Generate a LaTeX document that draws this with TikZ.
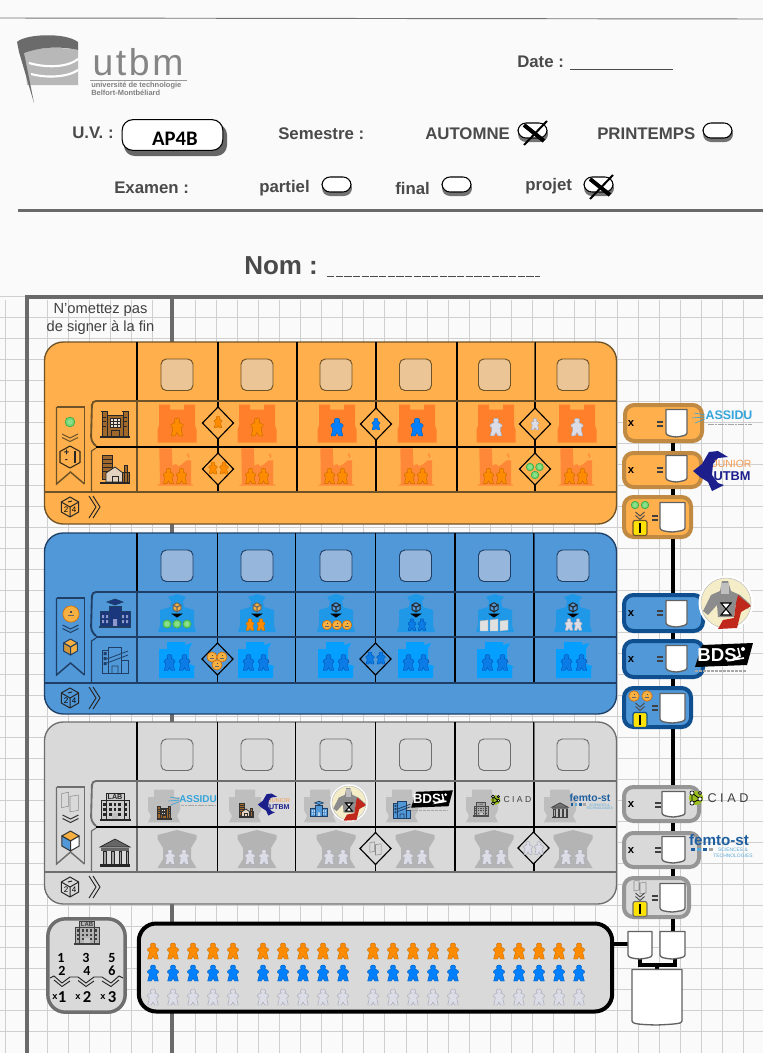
\documentclass[tikz,border=0pt]{standalone}
\usepackage{fontspec}
\setmainfont{Liberation Sans}
\newfontfamily\cfont{Carlito}
\usetikzlibrary{calc}
\definecolor{hdr}{HTML}{4A4A4A}
\definecolor{gridc}{HTML}{CFCFCF}
\definecolor{thk}{HTML}{6A6A6A}
\definecolor{orF}{HTML}{FFB04C}\definecolor{orS}{HTML}{6E5228}\definecolor{orQ}{HTML}{EBC595}\definecolor{orB}{HTML}{C08A42}
\definecolor{blF}{HTML}{5198D8}\definecolor{blS}{HTML}{1F3F66}\definecolor{blQ}{HTML}{96B6DC}\definecolor{blB}{HTML}{0F4F8F}
\definecolor{grF}{HTML}{D9D9D9}\definecolor{grS}{HTML}{6E6E6E}\definecolor{grB}{HTML}{969696}
\definecolor{castleC}{HTML}{FF7F2A}\definecolor{factC}{HTML}{FF8838}
\definecolor{schoolC}{HTML}{2098E8}\definecolor{houseC}{HTML}{05A0FF}
\definecolor{labC}{HTML}{BEBEBE}\definecolor{templeC}{HTML}{B4B4B4}
\definecolor{coinC}{HTML}{F5B041}\definecolor{brn}{HTML}{A0682A}
\tikzset{
 connec/.style={line width=3pt,black},
 vthin/.style={line width=.8pt,black},
 scorebox/.style={rounded corners=7pt,line width=3pt,inner sep=0pt},
 hdrtxt/.style={inner sep=0pt,text=hdr,font=\fontsize{12.6}{14}\selectfont\bfseries},
}
\newcounter{lb}
\newcommand\lbl[4][]{\stepcounter{lb}\node[inner sep=0pt,#1] (lb\arabic{lb}) at (#2,#3) {#4};}
% meeple: x y scale fill stroke
\newcommand\meep[5]{\begin{scope}[shift={(#1,#2)},scale=#3]
\filldraw[fill=#4,draw=#5,line width=.35pt,line join=round] (0,-8)--(1.7,-7.6)--(2.5,-6.3)--(2.3,-4.8)--(1.6,-4)--(3.8,-3.2)--(5.5,-1.8)--(5.4,-.2)--(3.9,.3)--(4,3)--(5.3,8)--(1.7,8)--(0,5)--(-1.7,8)--(-5.3,8)--(-4,3)--(-3.9,.3)--(-5.4,-.2)--(-5.5,-1.8)--(-3.8,-3.2)--(-1.6,-4)--(-2.3,-4.8)--(-2.5,-6.3)--(-1.7,-7.6)--cycle;
\end{scope}}
\definecolor{mOf}{HTML}{FF8C00}\definecolor{mOs}{HTML}{C96E00}
\definecolor{mBf}{HTML}{0080FF}\definecolor{mBs}{HTML}{0062C4}
\definecolor{mWf}{HTML}{DCDCE6}\definecolor{mWs}{HTML}{A8A8B4}
\definecolor{mDf}{HTML}{0B7CE6}\definecolor{mDs}{HTML}{0058B8}
\newcommand\mO[3]{\meep{#1}{#2}{#3}{mOf}{mOs}}
\newcommand\mB[3]{\meep{#1}{#2}{#3}{mBf}{mBs}}
\newcommand\mW[3]{\meep{#1}{#2}{#3}{mWf}{mWs}}
\newcommand\mD[3]{\meep{#1}{#2}{#3}{mDf}{mDs}}
% cell shapes
\newcommand\castle[2]{\fill[castleC,shift={(#1,#2)}] (-18,-19)--(-7,-19)--(-7,-14)--(7,-14)--(7,-19)--(18,-19)--(18,2)--(19.5,6)--(19.5,19)--(-19.5,19)--(-19.5,6)--(-18,2)--cycle;}
\newcommand\factory[2]{\begin{scope}[shift={(#1,#2)}]
\fill[factC] (-15.7,-18.7)--(-3.3,-18.7)--(-2.5,-1.3)--(1,-3)--(3.3,-1)--(6,-2)--(11.7,-6.7)--(16,-6.7)--(16,17)--(19,18.7)--(-18.3,18.7)--(-15,17)--cycle;
\draw[factC,line width=.6pt] (13.5,-14)--(12.5,-11.5)--(14,-11)--(13,-9);
\end{scope}}
\newcommand\school[2]{\fill[schoolC,shift={(#1,#2)}] (-9,-16)--(0,-19)--(9,-16)--(6,-12)--(7,-6)--(17,-3)--(17,12)--(19,19)--(-19,19)--(-17,12)--(-17,-3)--(-7,-6)--(-6,-12)--cycle;}
\newcommand\house[2]{\fill[houseC,shift={(#1,#2)}] (-10,-18)--(8,-18)--(8,-15)--(15,-17)--(12,-11)--(12,4)--(18,6)--(17,9)--(17,18)--(-18,18)--(-18,-11)--(-10,-11)--cycle;}
\newcommand\labshape[2]{\fill[labC,shift={(#1,#2)}] (-10,-16.3)--(10,-16.3)--(10,-9)--(16,-9)--(16,4)--(13,10)--(16,16.3)--(-16,16.3)--(-13,10)--(-16,4)--(-16,-9)--(-10,-9)--cycle;}
\newcommand\temple[2]{\fill[templeC,shift={(#1,#2)}] (0,-19)--(19.5,-14)--(19.5,-10)--(14,-1)--(14,10)--(19.5,19)--(-19.5,19)--(-14,10)--(-14,-1)--(-19.5,-10)--(-19.5,-14)--cycle;}
% tokens
\definecolor{tokA}{HTML}{6FD86F}\definecolor{tokB}{HTML}{3FA84F}\definecolor{tokC}{HTML}{8CE08C}
\newcommand\token[3]{\begin{scope}[shift={(#1,#2)},scale=#3]\filldraw[fill=tokA,draw=tokB,line width=.5pt] (0,0) circle (3.6);\fill[tokC] (0,0) circle (1.9);\end{scope}}
\newcommand\coin[3]{\begin{scope}[shift={(#1,#2)},scale=#3]\filldraw[fill=coinC,draw=orange!80!black,line width=.4pt] (0,0) circle (4.8);\fill[black!70] (-.4,-1.8) rectangle (.4,-.8);\fill[black!60] (-2,.6) rectangle (2,1.2);\end{scope}}
% cube x y r top left right line
\newcommand\cube[7]{\begin{scope}[shift={(#1,#2)},scale=#3,line width=.75pt,line join=round]
\filldraw[fill=#4,draw=#7] (0,-1)--(.87,-.5)--(0,0)--(-.87,-.5)--cycle;
\filldraw[fill=#5,draw=#7] (-.87,-.5)--(0,0)--(0,1)--(-.87,.5)--cycle;
\filldraw[fill=#6,draw=#7] (.87,-.5)--(0,0)--(0,1)--(.87,.5)--cycle;
\end{scope}}
\newcommand\chev[4]{\draw[#4,line width=.7pt] (#1-#3,#2)--(#1,#2+4)--(#1+#3,#2) (#1-#3,#2+3.5)--(#1,#2+7.5)--(#1+#3,#2+3.5);}
\newcommand\book[4]{\begin{scope}[shift={(#1,#2)},scale=#3]\filldraw[fill=#4,draw=black!45,line width=.4pt] (-6,-6)--(-1,-7)--(-1,3)--(-6,4)--cycle (0,-4)--(6,-5)--(6,6)--(0,7)--cycle;\end{scope}}
\newcommand\ddown[4]{\begin{scope}[shift={(#1,#2)}]\cube{0}{-5.7}{4.6}{#3}{#3}{#3}{#4}\fill[black] (-6,.5)--(6,.5)--(0,4.5)--cycle;\end{scope}}
\newcommand\diam[2]{\filldraw[shift={(#1,#2)},draw=black,line width=.85pt,fill=\dfill] (-15.5,0)--(0,-16)--(15.5,0)--(0,16)--cycle;}
% die icon at left of bottom band
\newcommand\die[2]{\begin{scope}[shift={(#1,#2)}]
\draw[black!85,line width=.75pt,line join=round] (0,-10)--(8.7,-5)--(8.7,5)--(0,10)--(-8.7,5)--(-8.7,-5)--cycle (-8.7,-5)--(0,0)--(8.7,-5) (0,0)--(0,10) (-2,-5)--(2,-6);
\lbl[font=\fontsize{6}{6}\selectfont]{-4}{3}{2}\lbl[font=\fontsize{6}{6}\selectfont]{4}{3}{4}
\draw[black!85,line width=.7pt] (19,-11)--(26,0)--(19,11) (23,-11)--(30,0)--(23,11);
\end{scope}}
% building icons x y s line fill
\newcommand\icCastle[5]{\begin{scope}[shift={(#1,#2)},scale=#3,draw=#4,line width=.55pt]
\filldraw[fill=#5] (-13,-12) rectangle (-8,13) (8,-12) rectangle (13,13) (-8,-8) rectangle (8,13);
\filldraw[fill=white!80!#5] (-5,-5) rectangle (5,4);
\draw (-5,-2)--(5,-2) (-5,1)--(5,1) (-2,-5)--(-2,4) (2,-5)--(2,4) (-14,-12)--(-7,-12) (7,-12)--(14,-12) (-12,-6)--(-9,-6) (-12,-2)--(-9,-2) (-12,3)--(-9,3) (9,-6)--(12,-6) (9,-2)--(12,-2) (9,3)--(12,3) (-4,13)--(-4,7)--(4,7)--(4,13);
\draw[line width=1pt] (-15,14)--(15,14);
\end{scope}}
\newcommand\icFact[5]{\begin{scope}[shift={(#1,#2)},scale=#3,draw=#4,line width=.55pt]
\filldraw[fill=#5] (-13,-14) rectangle (-3,10);
\draw (-13,-10)--(-3,-10) (-13,-6)--(-3,-6) (-13,-2)--(-3,-2) (-13,2)--(-3,2);
\filldraw[fill=white!70!#5] (-9,13)--(-9,4)--(0,-2)--(8,4)--(8,13)--cycle;
\filldraw[fill=#5] (9,-4) rectangle (12,13) (7,3) rectangle (14,13);
\draw (-3,13)--(-3,7)--(3,7)--(3,13);
\draw[line width=1pt] (-15,14)--(15,14);
\end{scope}}
\newcommand\icSchool[5]{\begin{scope}[shift={(#1,#2)},scale=#3,draw=#4,line width=.5pt]
\filldraw[fill=#5] (-15,-2) rectangle (-6,13) (6,-2) rectangle (15,13) (-6,-7)--(6,-7)--(6,13)--(-6,13)--cycle;
\filldraw[fill=#5] (-8,-11)--(0,-14)--(8,-11)--(0,-8)--cycle;
\fill[white!60!#5] (-13,2) rectangle (-11,5) (-9,2) rectangle (-7,5) (-13,7) rectangle (-11,10) (-9,7) rectangle (-7,10) (7,2) rectangle (9,5) (11,2) rectangle (13,5) (7,7) rectangle (9,10) (11,7) rectangle (13,10) (-2,6) rectangle (2,13);
\draw[line width=1pt] (-16,14)--(16,14);
\end{scope}}
\newcommand\icFactB[5]{\begin{scope}[shift={(#1,#2)},scale=#3,draw=#4,line width=.6pt]
\filldraw[fill=#5] (-13,-10) rectangle (-7,13) (-7,-13) rectangle (6,13) (6,0) rectangle (13,13);
\fill[#4] (-11.5,-8) rectangle (-8.5,-5) (-11.5,-3) rectangle (-8.5,0) (-11.5,2) rectangle (-8.5,5);
\draw (-8,-1)--(13,-9) (-8,3)--(13,-5) (-3,13)--(-3,6)--(3,6)--(3,13);
\end{scope}}
\newcommand\icLab[6]{\begin{scope}[shift={(#1,#2)},scale=#3,draw=#4,line width=.5pt]
\filldraw[fill=#5] (-14,-6) rectangle (14,13) (-9,-13) rectangle (9,13);
\foreach \uu in {-12,-6,-1.5,3,9}{\foreach \vv in {-3,2,7}{\fill[#4] (\uu,\vv) rectangle +(2.8,2.8);}}
\fill[white!70!#4] (-3,7) rectangle (3,13);
\draw[line width=1pt] (-15.5,14)--(15.5,14);
\lbl[font=\fontsize{#6}{#6}\selectfont\bfseries,text=#4]{0}{-9}{LAB}
\end{scope}}
\newcommand\icTemple[5]{\begin{scope}[shift={(#1,#2)},scale=#3,draw=#4,line width=.5pt]
\filldraw[fill=#5] (-15,-5)--(0,-13)--(15,-5)--cycle;
\fill[#5] (-14,-4) rectangle (14,-1);
\foreach \uu in {-11.5,-3.5,4,11}{\filldraw[fill=white!40!#5] (\uu,-1) rectangle +(2.6,13);}
\fill[#4] (-15,12) rectangle (15,15);
\end{scope}}
% logos
\definecolor{assC}{HTML}{34A4DC}
\definecolor{jrN}{HTML}{1C1E8C}\definecolor{jrO}{HTML}{F59B50}
\newcommand\assidu[3]{\begin{scope}[shift={(#1,#2)},scale=#3]
\pgfmathsetmacro\fs{9.3*#3}
\draw[assC,line width=.45pt] (-35,-5)--(-24,-3) (-37,0)--(-24,-1) (-34,5)--(-24,1);
\lbl[font=\fontsize{\fs}{\fs}\selectfont\bfseries,text=assC]{0}{-2.5}{ASSIDU}
\draw[black!35,line width=.5pt,dash pattern=on 2pt off .5pt] (-21,6)--(23,6);
\end{scope}}
\newcommand\junior[3]{\begin{scope}[shift={(#1,#2)},scale=#3]
\pgfmathsetmacro\fs{7.8*#3}\pgfmathsetmacro\fb{9.6*#3}
\fill[jrN] (-33,1)--(-24,-6)--(-17,-18)--(-8,-19)--(2,-13)--(-8,-12)--(-13,-6)--(-14,5)--(-8,13)--(-2,15)--(-14,21)--(-18,12)--(-26,7)--cycle;
\lbl[font=\fontsize{\fs}{\fs}\selectfont,text=jrO]{6}{-6}{JUNIOR}
\lbl[font=\fontsize{\fb}{\fb}\selectfont\bfseries,text=jrN]{6}{6}{UTBM}
\end{scope}}
\definecolor{crm}{HTML}{F4EDC8}\definecolor{crR}{HTML}{C0281C}
\newcommand\chronos[3]{\begin{scope}[shift={(#1,#2)},scale=#3]
\fill[white] (0,0) circle (27.5);
\filldraw[fill=crm,draw=black!25,line width=.4pt] (0,0) circle (25);
\fill[black!45] (-15,-8)--(-6,-12)--(-4,-22)--(2,-22)--(5,-12)--(14,-8)--(24,1)--(22,6)--(10,0)--(8,14)--(-8,14)--(-9,2)--(-18,12)--(-23,8)--cycle;
\fill[black!25] (-5,-20) rectangle (3,-9);
\fill[crR] (12,-8)--(25,3)--(15,9)--(11,25)--(-8,26)--(-3,17)--(8,15)--(10,0)--cycle;
\filldraw[fill=white,draw=black,line width=.8pt] (-5,0)--(5,0)--(-5,12)--(5,12)--cycle;
\end{scope}}
\newcommand\bds[3]{\begin{scope}[shift={(#1,#2)},scale=#3]
\pgfmathsetmacro\fs{14*#3}
\fill[black] (-22,-10)--(29,-12)--(23,10)--(-29,12)--cycle;
\lbl[font=\fontsize{\fs}{\fs}\selectfont\bfseries,text=white]{-7}{0}{BDS}
\draw[white,line width=1.2pt] (14,-7)--(16,1)--(8,5)--(20,3);
\fill[white] (19,-6) circle (2);
\draw[black!35,line width=1pt,dash pattern=on 2pt off 1pt] (-29,16)--(22,16);
\end{scope}}
\definecolor{ciadG}{HTML}{9ABF20}
\newcommand\ciad[3]{\begin{scope}[shift={(#1,#2)},scale=#3]
\pgfmathsetmacro\fs{9.5*#3}
\fill[ciadG] (-24,0) circle (7);
\draw[black,line width=.6pt] (-28,-5)--(-20,1)--(-28,5) (-28,-5)--(-28,5);
\filldraw[fill=white,draw=black,line width=.5pt] (-28,-5) circle (2.1) (-20,1) circle (2.1) (-28,5) circle (2.1) (-20,-5) circle (1.7);
\lbl[font=\fontsize{\fs}{\fs}\selectfont\addfontfeature{LetterSpace=28},text=black!75]{8}{0}{CIAD}
\end{scope}}
\definecolor{fb}{HTML}{1F5FA0}\definecolor{fc}{HTML}{5AA9D6}
\newcommand\femto[3]{\begin{scope}[shift={(#1,#2)},scale=#3]
\pgfmathsetmacro\fs{11.4*#3}\pgfmathsetmacro\ft{3.7*#3}
\lbl[font=\fontsize{\fs}{\fs}\selectfont\bfseries,text=fb]{0}{-4}{femto-st}
\fill[fb] (-28,3.5) rectangle +(3.5,3.5);\fill[fc] (-22,3.5) rectangle +(3.5,3.5);\fill[fb] (-16,3.5) rectangle +(3.5,3.5);\fill[black!35] (-10,3.5) rectangle +(3.5,3.5);
\lbl[font=\fontsize{\ft}{\ft}\selectfont,text=fc]{14}{6}{SCIENCES \&}
\lbl[font=\fontsize{\ft}{\ft}\selectfont,text=fc]{14}{11.5}{TECHNOLOGIES}
\end{scope}}
% checkbox
\newcommand\cbox[2]{\fill[black!55,rounded corners=6pt] (#1,#2+3) rectangle (#1+30,#2+19);
\filldraw[fill=white,draw=black,line width=.8pt,rounded corners=6pt] (#1,#2) rectangle (#1+29,#2+15);}
\newcommand\xmark[2]{\draw[black,line width=3pt] (#1+4,#2+2)--(#1+24,#2+18);\draw[black,line width=1.5pt] (#1+27,#2-2)--(#1+4,#2+22);}
% shield
\newcommand\shield[4]{\filldraw[fill=white,draw=black!62,line width=1pt,line join=round] (#1,#2+.5)--(#3,#2+.5)--(#3,#4-4) .. controls (#3-.5,#4-1.5) and (#3-4,#4-1) .. ({(#1+#3)/2},#4) .. controls (#1+4,#4-.5) and (#1+.5,#4-1.5) .. (#1,#4-4)--cycle;}
\newcommand\yellowI[3]{\begin{scope}[shift={(#1,#2)}]\filldraw[fill=yellow!85!orange,draw=#3,line width=.9pt,rounded corners=1.5pt] (-7,-7.5) rectangle (7,7.5);\fill[black] (-1.3,-5) rectangle (1.3,5);\end{scope}}
\newcommand\eqsign[2]{\draw[black!75,line width=.9pt] (#1-3,#2-2)--(#1+3,#2-2) (#1-3,#2+2)--(#1+3,#2+2);}
% board: y0 y1 ytop ymid ybot fill stroke square vline-xs(6)
\newcommand\board[9]{
\filldraw[fill=#6,draw=#7,line width=1pt,rounded corners=14pt] (44.5,#1) rectangle (616.5,#2);
\foreach \q in {177,257,336,415.5,494.5,573}{\filldraw[fill=#8,draw=#7,line width=.7pt,rounded corners=4pt] (\q-16,#3-42) rectangle (\q+16,#3-10.5);}
\foreach \q in #9{\draw[vthin] (\q,#1) -- (\q,#5);}
\draw[#7,line width=1.2pt] (534.5,#1)--(534.5,#3);
\draw[#7,line width=1.4pt] (137,#3)--(137,#5);
\draw[#7,line width=1.4pt] (45,#5)--(616,#5);
\draw[#7,line width=1.4pt,rounded corners=3pt] (616,#3)--(92,#3)--(91,#4-6)--(96,#4-1);
\draw[black,line width=.85pt] (96,#4)--(616,#4);
\draw[#7,line width=.9pt] (96,#4+1)--(91.5,#4+4)--(91.5,#5);
\draw[#7,line width=1.1pt] (56.5,#3+6)--(84.5,#3+6)--(84.5,#3+83);
\draw[#7,line width=1.1pt] (56.5,#3+6)--(56.5,#3+83)--(70.5,#3+71)--(84.5,#3+83);
\die{70}{#5+15}
}
\begin{document}
\begin{tikzpicture}[x=.75pt,y=-.75pt]
\useasboundingbox (0,0) rectangle (763,1053);
\fill[white!98!black] (0,0) rectangle (763,1053);
% grid paper
\foreach \k in {0,...,36}{\draw[gridc,line width=.55pt] ({5+21.1*\k},300)--({5+21.1*\k},1053);}
\foreach \k in {0,...,35}{\draw[gridc,line width=.55pt] (0,{1031.7-21*\k})--(763,{1031.7-21*\k});}
\draw[thk,line width=2.6pt] (27,1053)--(27,297)--(763,297);
\draw[thk,line width=2.6pt] (172,297)--(172,1053);
% header
\draw[black!55,line width=.7pt] (0,18)--(763,19);
\fill[black!28] (24,52) .. controls (40,47) and (60,47) .. (78,50)--(78,85)--(27,85)--cycle;
\draw[white,line width=1.6pt] (29,63) .. controls (50,69) and (70,66) .. (78,59) (31,74) .. controls (50,79) and (70,76) .. (78,70);
\fill[black!58] (17,42) .. controls (25,34) and (65,32) .. (78,42)--(78,50) .. controls (60,46) and (40,47) .. (24,53)--(34,103)--(19,52)--cycle;
\node[inner sep=0pt,text=black!48,font=\fontsize{28}{28}\selectfont\addfontfeature{LetterSpace=7}] (utbm) at (138,62.5) {utbm};
\draw[black!40,line width=.5pt] (90,80)--(187,80);
\node[inner sep=0pt,text=black!50,font=\fontsize{5.6}{6}\selectfont\bfseries,anchor=west] (univ) at (91,85.5) {université de technologie};
\node[inner sep=0pt,text=black!50,font=\fontsize{5.6}{6}\selectfont\bfseries,anchor=west] (belf) at (91,93) {Belfort-Montbéliard};
\node[hdrtxt,anchor=west] (date) at (517,62) {Date :};
\draw[hdr,line width=.7pt] (570,69.5)--(673,69.5);
\node[hdrtxt,anchor=west] (uv) at (72,133) {U.V. :};
\fill[black!60,rounded corners=8pt] (124,124) rectangle (227,156);
\node[draw=black,fill=white,line width=.8pt,rounded corners=8pt,minimum width=75.5pt,minimum height=23pt,inner sep=0pt] (uvbox) at (172.5,135) {};
\node[inner sep=0pt,font=\cfont\fontsize{15.5}{16}\selectfont\bfseries,text=black] (uvtxt) at (175,139) {AP4B};
\node[hdrtxt,anchor=west] (sem) at (278,133.5) {Semestre :};
\node[hdrtxt,anchor=west] (aut) at (425,133.5) {AUTOMNE};
\cbox{518}{123}\xmark{520}{123}
\node[hdrtxt,anchor=west] (prin) at (597,133.5) {PRINTEMPS};
\cbox{703}{123}
\node[hdrtxt,anchor=west] (exa) at (114,188) {Examen :};
\node[hdrtxt,anchor=west] (part) at (259,188) {partiel};
\cbox{322}{177}
\node[hdrtxt,anchor=west] (fin) at (395,188) {final};
\cbox{442}{177}
\node[hdrtxt,anchor=west] (proj) at (525,186) {projet};
\cbox{584}{177}\xmark{586}{177}
\draw[thk,line width=2.6pt] (18,210.5)--(763,210.5);
\node[hdrtxt,anchor=west,font=\fontsize{19.5}{20}\selectfont\bfseries] (nom) at (244,266) {Nom :};
\draw[hdr,line width=.9pt,dash pattern=on 5.5pt off 1pt] (327,276.5)--(540,276.5);
\node[inner sep=0pt,text=black!75,font=\fontsize{11}{12}\selectfont] (om1) at (100.5,310) {N'omettez pas};
\node[inner sep=0pt,text=black!75,font=\fontsize{11}{12}\selectfont] (om2) at (100.5,328) {de signer à la fin};
% ORANGE
\board{342}{524}{401}{447}{492}{orF}{orS}{orQ}{{137,218,297,376,457,535}}
\foreach \q in {177,257,337,417,496,577}{\castle{\q}{423.5}}
\mO{177}{427}{1.1}\mO{257}{427}{1.1}\mB{337}{427}{1.1}\mB{417}{427}{1.1}\mW{496}{427}{1.1}\mW{577}{427}{1.1}
\foreach \q in {175,257,336,416,495,576}{\factory{\q}{467}\mO{\q-6.5}{476}{.95}\mO{\q+6.5}{476}{.95}}
\def\dfill{orF}
\diam{218}{423}\mO{218}{422}{.72}
\diam{376}{424}\mB{376}{424}{.72}
\diam{535}{424}\mW{535}{424}{.72}
\diam{218}{469}\mO{213}{468}{.75}\mO{224}{468}{.75}
\diam{535}{469}\token{530}{467}{1.05}\token{539.5}{467}{1.05}\token{535}{475}{1.05}
\icCastle{115}{423}{1}{black!85}{brn}
\icFact{115}{469}{1}{black!85}{brn}
\token{70}{422}{1.35}
\chev{70}{434}{8}{orS}
\begin{scope}[shift={(70,457)}]\draw[orS!50!black,line width=.8pt,line join=round] (0,-11)--(10,-5.5)--(10,5.5)--(0,11)--(-10,5.5)--(-10,-5.5)--cycle;\end{scope}
\lbl[font=\fontsize{7}{7}\selectfont\bfseries,text=black!85]{66.5}{452.5}{+}
\lbl[font=\fontsize{7}{7}\selectfont\bfseries,text=black!85]{66.5}{461.5}{-}
\fill[black!85] (73.5,451) rectangle (75.5,463);
% BLUE
\board{533}{714}{592}{637}{683}{blF}{blS}{blQ}{{137,217.5,295.5,375.5,455,534}}
\draw[blS,line width=1.4pt] (96,637)--(616,637);
\foreach \q in {177,257,336,416,495,573}{\school{\q}{613}}
\ddown{177}{613}{coinC}{black!60}\ddown{257}{613}{coinC}{black!60}
\ddown{336}{613}{blF}{black!85}\ddown{416}{613}{blF}{black!85}\ddown{494}{613}{blF}{black!85}\ddown{573}{613}{blF}{black!85}
\token{167}{624}{1.15}\token{177}{624}{1.15}\token{187}{624}{1.15}
\mO{250}{624.5}{.72}\mO{261}{624.5}{.72}
\coin{327}{625}{1}\coin{337}{625}{1}\coin{347}{625}{1}
\mD{412}{624.5}{.72}\mD{422}{624.5}{.72}
\filldraw[fill=black!12,draw=black!30,line width=.3pt] (480,621)--(488,620)--(488,631)--(480,631)--cycle (490,620)--(498,619)--(498,631)--(490,631)--cycle (500,621)--(508,620)--(508,630)--(500,631)--cycle;
\mW{569}{624.5}{.72}\mW{578}{624.5}{.72}
\foreach \q in {177,256,336,416,495,574}{\house{\q}{660}\mD{\q-7.5}{662.5}{1}\mD{\q+7.5}{662.5}{1}}
\def\dfill{blF}
\diam{217.5}{659}\coin{212}{657}{1.05}\coin{222}{657}{1.05}\coin{217}{665}{1.05}
\diam{375.5}{659}\mD{370}{658}{.75}\mD{381}{658}{.75}
\icSchool{115}{613}{1}{blS}{blS!85!blue}
\icFactB{115}{660}{1}{blS}{blF}
\coin{71}{614}{1.7}
\chev{70.5}{625}{8}{blS}
\cube{70.5}{647}{8}{coinC}{coinC!85!black}{coinC}{blS}
% GRAY
\board{722}{904}{781}{827}{872}{grF}{grS}{grF}{{137,217.5,295.5,375.5,455,534}}
\foreach \q in {164,245,320,402,482,560}{\labshape{\q}{806}}
\icCastle{164}{812}{.5}{black!80}{brn}
\icFact{246}{810}{.5}{black!80}{brn}
\icSchool{319}{809}{.55}{blS}{blF}
\icFactB{402}{810}{.65}{blS}{blF}
\icLab{481}{809}{.5}{black!70}{black!35}{1.5}
\icTemple{560}{810}{.55}{black!75}{black!55}
\assidu{198}{801}{.8}
\junior{276}{804}{.55}
\chronos{349}{803}{.68}
\bds{432}{799}{.72}
\ciad{512}{800}{.68}
\femto{590}{801}{.68}
\foreach \q in {177,257,336,415,494,573}{\temple{\q}{849}\mW{\q-7}{857}{.95}\mW{\q+7}{857}{.95}}
\def\dfill{grF}
\diam{375.5}{848.5}\book{375.5}{848.5}{.95}{grF}
\diam{533.5}{848}\mW{528}{848}{.8}\mW{539}{848}{.8}
\icLab{115}{806}{1}{black!85}{black!20}{5.4}
\icTemple{115}{852}{1}{black!85}{black!60}
\book{70}{802}{1.4}{white!85!black}
\chev{70.5}{815}{8}{black!80}
\cube{70.5}{841}{10}{coinC}{blF}{white}{black!80}
% score boxes
\coordinate (spine) at (673,0);
\newcommand\scb[7]{\node[scorebox,draw=#7,fill=#6,minimum width={(#4-#2)*.75pt-3pt},minimum height={(#5-#3)*.75pt-3pt}] (#1) at ({(#2+#4)/2},{(#3+#5)/2}) {};}
\scb{oA}{623}{403}{704}{443}{orF}{orB}
\scb{oB}{622}{451}{703}{489}{orF}{orB}
\scb{oC}{622}{495}{693}{539}{orF}{orB}
\scb{bA}{622}{593}{705}{633}{blF}{blB}
\scb{bB}{622}{639}{705}{679}{blF}{blB}
\scb{bC}{622}{686}{693}{729}{blF}{blB}
\scb{gA}{622}{785}{701}{823}{grF}{grB}
\scb{gB}{622}{831}{701}{869}{grF}{grB}
\scb{gC}{622}{876}{691}{919}{grF}{grB}
\draw[connec] (spine |- oA.south)--(spine |- oB.north);
\draw[connec] (spine |- oB.south)--(spine |- oC.north);
\draw[connec] (spine |- oC.south)--(spine |- bA.north);
\draw[connec] (spine |- bA.south)--(spine |- bB.north);
\draw[connec] (spine |- bB.south)--(spine |- bC.north);
\draw[connec] (spine |- bC.south)--(spine |- gA.north);
\draw[connec] (spine |- gA.south)--(spine |- gB.north);
\draw[connec] (spine |- gB.south)--(spine |- gC.north);
\foreach \yy in {424,470,613,659,804,850}{\lbl[font=\fontsize{8.5}{9}\selectfont\bfseries,text=black]{631}{\yy}{x}}
\foreach \xx/\yy in {660/424,660/470,655/518,660/613,660/659,655/708,658/805,658/850,655/898}{\eqsign{\xx}{\yy}}
\shield{666}{409}{687}{437}\shield{666}{455}{687}{482}\shield{660}{502}{685}{532}
\shield{666}{600}{687}{627}\shield{666}{645}{687}{672}\shield{660}{693}{685}{723}
\shield{662}{791}{685}{817}\shield{662}{836}{685}{863}\shield{660}{883}{685}{912}
\token{635}{505}{1.05}\token{645}{505}{1.05}\chev{640}{512}{4.5}{black!70}\yellowI{640}{528}{orB!60!black}
\coin{634}{696}{1.1}\coin{647}{696}{1.1}\chev{640}{703}{4.5}{black!70}\yellowI{640}{720}{blB}
\book{640}{887}{1}{grF}\chev{640}{893}{4.5}{black!70}\yellowI{640}{909}{grS}
\assidu{729}{418}{1}
\junior{726}{470}{1}
\chronos{726}{603}{1}
\bds{724}{655}{1}
\ciad{720}{798}{1}
\femto{719}{844}{1}
% pool + card
\node[draw=grS,fill=grF,line width=2.6pt,rounded corners=13pt,minimum width=58pt,minimum height=70pt,inner sep=0pt] (card) at (86.5,965.5) {};
\node[draw=black,fill=grF,line width=3pt,rounded corners=13pt,minimum width=355pt,minimum height=66pt,inner sep=0pt] (pool) at (375.5,967.5) {};
\icLab{87}{932}{.85}{black!75}{black!30}{4.5}
\foreach \xx/\yy/\ttx in {61/958/1,86/958/3,112/958/5,62/970.5/2,87/970.5/4,112/970.5/6}{\lbl[font=\cfont\fontsize{10.5}{10.5}\selectfont\bfseries,text=black]{\xx}{\yy}{\ttx}}
\foreach \xx/\ttx in {62/1,87/2,112/3}{\lbl[font=\cfont\fontsize{12.5}{12.5}\selectfont\bfseries,text=black]{\xx}{997}{\ttx}}
\foreach \xx in {55,78,103}{\lbl[font=\fontsize{7}{7}\selectfont\bfseries,text=black]{\xx}{997.5}{x}}
\draw[black!85,line width=.7pt] (50,978)--(54,976)--(62,983)--(70,977)--(78,977)--(86,983)--(94,977)--(102,977)--(111,983)--(119,976)--(123,978) (54,980)--(62,986.5)--(70,981) (78,980.5)--(86,986.5)--(94,981) (102,981)--(111,986.5)--(119,980);
\foreach \xx in {153,173,193,213,233,263,283,303,323,343,373,393,413,433,453,499,519,539,559,579}{\mO{\xx}{951}{1}\mB{\xx}{973}{1}\mW{\xx}{997}{1}}
% final shields
\coordinate (fL) at (640,958);\coordinate (fR) at (675,958);\coordinate (fM) at (657,965);\coordinate (fT) at (657,969);
\coordinate (inL) at (628,944);\coordinate (inR) at (673,931);
\draw[connec] (gC.south -| inR)--(inR);
\draw[connec] (pool.east |- inL)--(inL);
\draw[connec] (fL)--(fL |- fM)--(fR |- fM)--(fR);
\draw[connec] (fM)--(fT);
\shield{628}{931}{652}{959}\shield{660}{931}{685}{959}
\shield{632}{969}{682}{1025}
\end{tikzpicture}
\end{document}
